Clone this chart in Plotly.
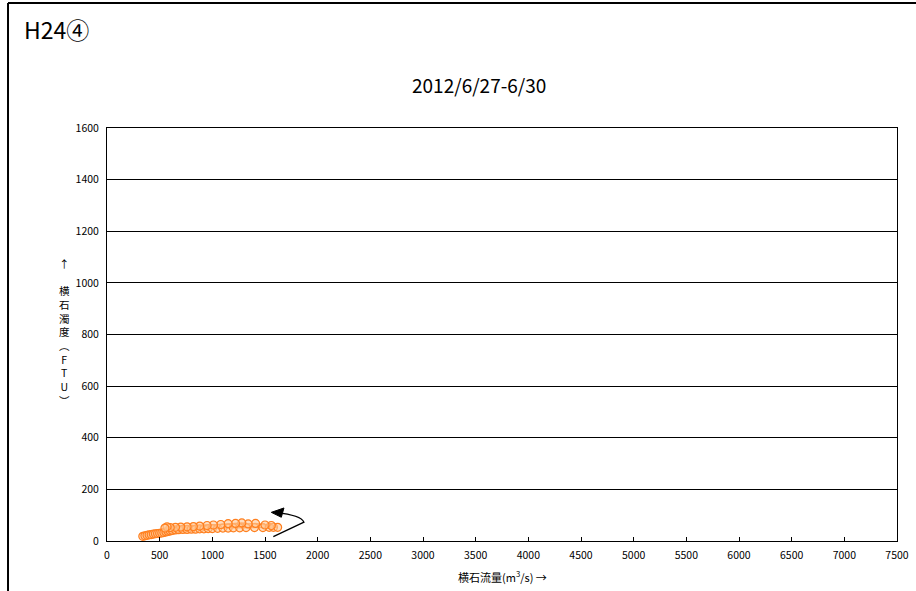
import plotly.graph_objects as go

# rising limb (lower branch), then falling limb (upper branch)
flow_up = [340, 360, 380, 400, 420, 440, 460, 480, 500, 520, 540, 560, 580, 600,
           620, 650, 680, 720, 760, 800, 840, 880, 920, 960, 1000, 1050, 1100,
           1150, 1200, 1260, 1320, 1400, 1480, 1540, 1580, 1620]
turb_up = [18, 20, 22, 24, 25, 27, 28, 29, 30, 31, 33, 35, 37, 39,
           41, 43, 44, 45, 45, 46, 46, 47, 47, 48, 48, 49, 50,
           50, 51, 51, 52, 52, 52, 53, 53, 53]
flow_down = [1560, 1500, 1410, 1340, 1280, 1220, 1150, 1080, 1010, 950, 880,
             820, 760, 700, 650, 600, 570, 550]
turb_down = [60, 62, 68, 66, 70, 68, 67, 64, 62, 60, 58,
             56, 55, 54, 53, 52, 55, 50]

x_ticks = list(range(0, 7501, 500))
y_ticks = list(range(0, 1601, 200))

title = "2012/6/27-6/30"
label = "H24④"
y_title_chars = ["↑", "", "横", "石", "濁", "度", "︵", "F", "T", "U", "︶"]
x_title = "横石流量(m<sup>3</sup>/s) →"

# direction arrow (data coords): curved shaft + arrowhead
arrow_path = "M 1579,17 L 1870,73 Q 1840,100 1610,110"
arrow_head_path = "M 1560,111 L 1680,128 L 1655,92 Z"

font = "Noto Sans CJK JP, Liberation Sans, sans-serif"

flow = flow_up + flow_down
turb = turb_up + turb_down

fig = go.Figure()
fig.add_trace(go.Scatter(
    x=flow, y=turb,
    mode="lines+markers",
    line=dict(color="#FF8A33", width=1.5),
    marker=dict(symbol="circle", size=8, color="rgba(255,200,150,0.6)",
                line=dict(color="#FF7F1E", width=1.2)),
    showlegend=False,
))

fig.add_shape(type="path", path=arrow_path, xref="x", yref="y",
              line=dict(color="black", width=1.3))
fig.add_shape(type="path", path=arrow_head_path, xref="x", yref="y",
              fillcolor="black", line=dict(color="black", width=1))

# outer frame (left and top only, cut off on the other sides)
fig.add_shape(type="line", xref="paper", yref="paper",
              x0=-0.1253, x1=-0.1253, y0=1.3027, y1=-0.2,
              line=dict(color="black", width=2))
fig.add_shape(type="line", xref="paper", yref="paper",
              x0=-0.1253, x1=1.03, y0=1.3027, y1=1.3027,
              line=dict(color="black", width=2))

fig.add_annotation(text=label, xref="paper", yref="paper", x=-0.108, y=1.285,
                   xanchor="left", yanchor="top", showarrow=False,
                   font=dict(family=font, size=23, color="black"))
fig.add_annotation(text=title, xref="paper", yref="paper", x=0.471, y=1.105,
                   xanchor="center", yanchor="middle", showarrow=False,
                   font=dict(family=font, size=19, color="black"))
fig.add_annotation(text="<br>".join(y_title_chars), xref="paper", yref="paper",
                   x=-0.054, y=0.695, xanchor="center", yanchor="top",
                   showarrow=False,
                   font=dict(family=font, size=10.5, color="black"))
fig.add_annotation(text=x_title, xref="paper", yref="paper", x=0.5, y=-0.085,
                   xanchor="center", yanchor="middle", showarrow=False,
                   font=dict(family=font, size=11, color="black"))

fig.update_layout(
    width=916, height=591,
    margin=dict(l=107, r=19, t=128, b=50),
    paper_bgcolor="white", plot_bgcolor="white",
    font=dict(family=font, size=10.5, color="black"),
    xaxis=dict(range=[0, 7500], tickvals=x_ticks, ticks="inside", ticklen=4,
               tickcolor="black", showgrid=False, zeroline=False,
               showline=True, linecolor="black", linewidth=1, mirror=True,
               automargin=False, ticklabelstandoff=4),
    yaxis=dict(range=[0, 1600], tickvals=y_ticks, ticks="", showgrid=True,
               gridcolor="black", gridwidth=1, zeroline=False,
               showline=True, linecolor="black", linewidth=1, mirror=True,
               automargin=False, ticklabelstandoff=5),
)

fig.write_html("out.html", config={"displayModeBar": False},
               post_script="document.body.style.margin='0';")
